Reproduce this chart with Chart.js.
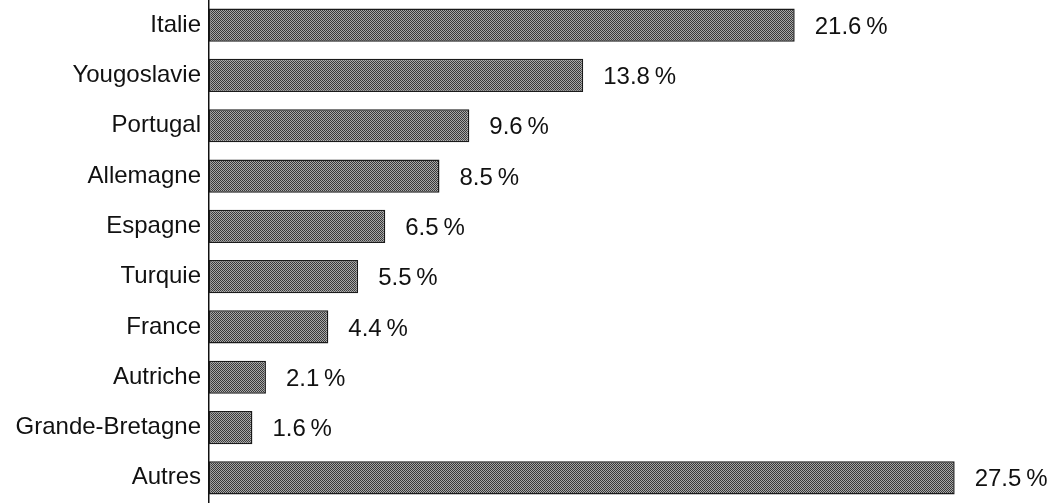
<!DOCTYPE html>
<html>
<head>
<meta charset="utf-8">
<script src="https://cdn.jsdelivr.net/npm/chart.js@4"></script>
<style>
  html, body { margin: 0; padding: 0; background: #fff; }
  #wrap { width: 1055px; height: 503px; position: relative; }
</style>
</head>
<body>
<div id="wrap"><canvas id="barChart"></canvas></div>
<script>
// Données
const pays = ['Italie', 'Yougoslavie', 'Portugal', 'Allemagne', 'Espagne', 'Turquie', 'France', 'Autriche', 'Grande-Bretagne', 'Autres'];
const parts = [21.6, 13.8, 9.6, 8.5, 6.5, 5.5, 4.4, 2.1, 1.6, 27.5];

const FONT = '"Liberation Sans", Arial, Helvetica, sans-serif';

// Trame grise façon impression tramée
function makePattern() {
  const c = document.createElement('canvas');
  c.width = 2; c.height = 2;
  const g = c.getContext('2d');
  g.fillStyle = '#a8a8a8'; g.fillRect(0, 0, 2, 2);
  g.fillStyle = '#383838';
  g.fillRect(0, 0, 1, 1);
  g.fillRect(1, 1, 1, 1);
  return g.createPattern(c, 'repeat');
}

// Étiquettes de valeur à droite des barres
const valueLabels = {
  id: 'valueLabels',
  afterDatasetsDraw(chart) {
    const ctx = chart.ctx;
    const meta = chart.getDatasetMeta(0);
    ctx.save();
    ctx.font = '24px ' + FONT;
    ctx.fillStyle = '#111';
    ctx.textAlign = 'left';
    ctx.textBaseline = 'middle';
    meta.data.forEach((bar, i) => {
      const txt = parts[i].toFixed(1) + '\u2009%';
      ctx.fillText(txt, bar.x + 20, bar.y + 2);
    });
    ctx.restore();
  }
};

document.addEventListener('DOMContentLoaded', () => {
  const ctx = document.getElementById('barChart').getContext('2d');
  new Chart(ctx, {
    type: 'bar',
    data: {
      labels: pays,
      datasets: [{
        data: parts,
        backgroundColor: makePattern(),
        borderColor: '#1a1a1a',
        borderWidth: 1.5,
        borderSkipped: false,
        categoryPercentage: 0.66,
        barPercentage: 1
      }]
    },
    options: {
      indexAxis: 'y',
      responsive: true,
      maintainAspectRatio: false,
      animation: false,
      layout: { padding: 0 },
      plugins: {
        legend: { display: false },
        tooltip: { enabled: false }
      },
      scales: {
        x: {
          display: false,
          min: 0,
          max: 31.2
        },
        y: {
          grid: { display: false, drawTicks: false },
          border: { display: true, color: '#111', width: 1.5 },
          ticks: {
            color: '#111',
            padding: 8,
            font: { family: FONT, size: 24 }
          },
          afterFit: (scale) => {
            scale.width = 209;
            scale.paddingTop = 0;
            scale.paddingBottom = 0;
          }
        }
      }
    },
    plugins: [valueLabels]
  });
});
</script>
</body>
</html>
